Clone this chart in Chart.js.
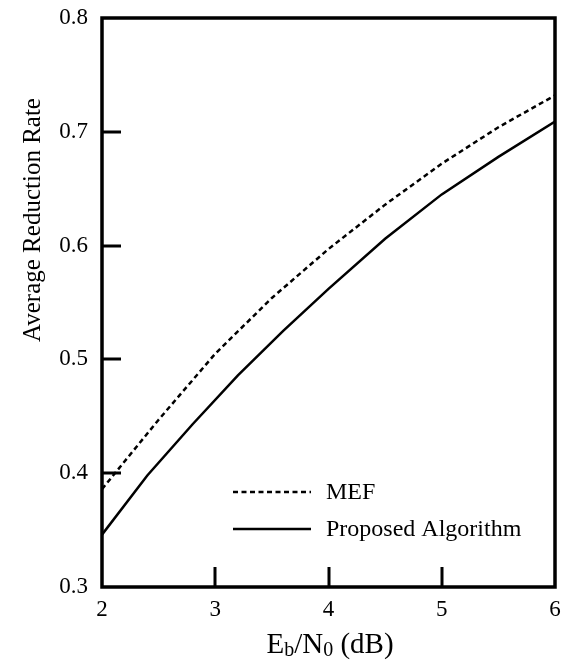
<!DOCTYPE html>
<html>
<head>
<meta charset="utf-8">
<script src="https://cdn.jsdelivr.net/npm/chart.js@4"></script>
<style>
  html, body { margin: 0; padding: 0; background: #fff; }
  #wrap { width: 563px; height: 662px; position: relative; }
</style>
</head>
<body>
<div id="wrap"><canvas id="c"></canvas></div>
<script>
// values
const ebnoMef = [2.0, 2.5, 3.0, 3.5, 4.0, 4.5, 5.0, 5.5, 6.0];
const rateMef = [0.386, 0.447, 0.505, 0.554, 0.597, 0.636, 0.672, 0.704, 0.732];
const ebnoProp = [2.0, 2.4, 2.8, 3.2, 3.6, 4.0, 4.5, 5.0, 5.5, 6.0];
const rateProp = [0.346, 0.398, 0.443, 0.486, 0.525, 0.562, 0.606, 0.645, 0.678, 0.709];
const xTicks = [2, 3, 4, 5, 6];
const yTicks = [0.3, 0.4, 0.5, 0.6, 0.7, 0.8];
const seriesLabels = ['MEF', 'Proposed Algorithm'];

const SERIF = '"Liberation Serif", "Times New Roman", serif';

// frame, inward ticks, axis titles and legend
const decor = {
  id: 'decor',
  afterDraw(chart) {
    const { ctx, chartArea: a, scales } = chart;
    const x = scales.x, y = scales.y;
    ctx.save();
    ctx.strokeStyle = '#000';
    ctx.lineWidth = 3.5;
    ctx.strokeRect(a.left, a.top, a.right - a.left, a.bottom - a.top);

    ctx.lineWidth = 3;
    ctx.beginPath();
    for (const v of yTicks.slice(1, -1)) {
      const py = Math.round(y.getPixelForValue(v));
      ctx.moveTo(a.left, py);
      ctx.lineTo(a.left + 19, py);
    }
    for (const v of xTicks.slice(1, -1)) {
      const px = Math.round(x.getPixelForValue(v));
      ctx.moveTo(px, a.bottom);
      ctx.lineTo(px, a.bottom - 20);
    }
    ctx.stroke();

    // y title
    ctx.fillStyle = '#000';
    ctx.save();
    ctx.translate(33, 220);
    ctx.rotate(-Math.PI / 2);
    ctx.font = '25px ' + SERIF;
    ctx.textAlign = 'center';
    ctx.textBaseline = 'middle';
    ctx.fillText('Average Reduction Rate', 0, 0);
    ctx.restore();

    // x title with subscripts
    const parts = [['E', false], ['b', true], ['/N', false], ['0', true], [' (dB)', false]];
    const big = '29px ' + SERIF, small = '20px ' + SERIF;
    let w = 0;
    for (const [t, sub] of parts) { ctx.font = sub ? small : big; w += ctx.measureText(t).width; }
    let cx = 330 - w / 2;
    const base = 653;
    ctx.textAlign = 'left';
    ctx.textBaseline = 'alphabetic';
    for (const [t, sub] of parts) {
      ctx.font = sub ? small : big;
      ctx.fillText(t, cx, sub ? base + 3 : base);
      cx += ctx.measureText(t).width;
    }

    // legend
    ctx.font = '24px ' + SERIF;
    ctx.textBaseline = 'middle';
    chart.data.datasets.forEach((ds, i) => {
      const ly = 492 + i * 37;
      ctx.beginPath();
      ctx.lineWidth = 2.5;
      ctx.setLineDash(ds.borderDash || []);
      ctx.moveTo(233, ly);
      ctx.lineTo(311, ly);
      ctx.stroke();
      ctx.setLineDash([]);
      ctx.fillText(ds.label, 326, ly + 1);
    });
    ctx.restore();
  }
};

new Chart(document.getElementById('c'), {
  type: 'line',
  data: {
    datasets: [
      {
        label: seriesLabels[0],
        data: ebnoMef.map((v, i) => ({ x: v, y: rateMef[i] })),
        borderColor: '#000',
        borderWidth: 2.5,
        borderDash: [5, 3.5],
        pointRadius: 0,
        tension: 0,
      },
      {
        label: seriesLabels[1],
        data: ebnoProp.map((v, i) => ({ x: v, y: rateProp[i] })),
        borderColor: '#000',
        borderWidth: 2.5,
        pointRadius: 0,
        tension: 0,
      },
    ],
  },
  options: {
    responsive: true,
    maintainAspectRatio: false,
    animation: false,
    layout: { padding: { top: 18, right: 8, left: 0, bottom: 0 } },
    plugins: { legend: { display: false }, tooltip: { enabled: false } },
    scales: {
      x: {
        type: 'linear',
        min: 2,
        max: 6,
        afterBuildTicks: (s) => { s.ticks = xTicks.map((v) => ({ value: v })); },
        afterFit: (s) => { s.height = 75; s.paddingLeft = 0; s.paddingRight = 0; },
        grid: { display: false, drawTicks: false },
        border: { display: false },
        ticks: { color: '#000', padding: 9, font: { family: SERIF, size: 23 }, maxRotation: 0 },
      },
      y: {
        min: 0.3,
        max: 0.8,
        afterBuildTicks: (s) => { s.ticks = yTicks.map((v) => ({ value: v })); },
        afterFit: (s) => { s.width = 102; s.paddingTop = 0; s.paddingBottom = 0; },
        grid: { display: false, drawTicks: false },
        border: { display: false },
        ticks: {
          color: '#000',
          padding: 14,
          font: { family: SERIF, size: 23 },
          callback: (v) => v.toFixed(1),
        },
      },
    },
  },
  plugins: [decor],
});
</script>
</body>
</html>
